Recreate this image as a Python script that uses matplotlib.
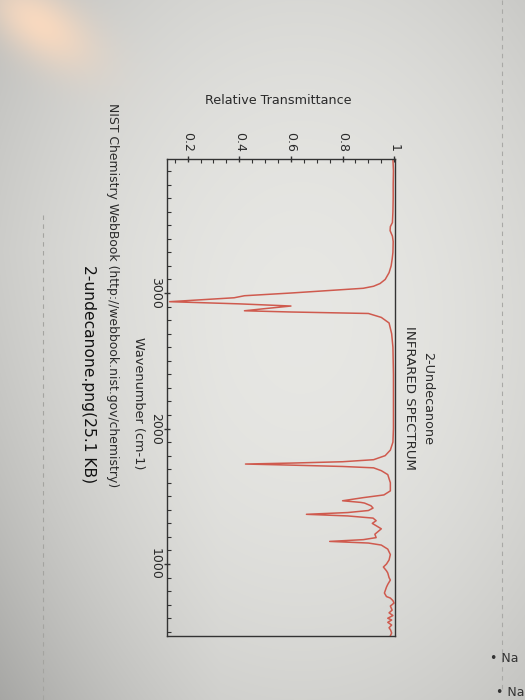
import numpy as np
import matplotlib
matplotlib.use("Agg")
import matplotlib.pyplot as plt
from matplotlib.ticker import FixedLocator, FixedFormatter, MultipleLocator

# ---------------- data ----------------
wavenumber = [3989, 3900, 3800, 3700, 3600, 3520, 3490, 3460, 3420, 3380, 3300,
              3250, 3200, 3150, 3100, 3070, 3050, 3035, 3020, 3000, 2980, 2965,
              2936, 2920, 2904, 2885, 2869, 2860, 2849, 2820, 2779, 2700, 2600,
              2400, 2200, 2000, 1900, 1841, 1800, 1770, 1755, 1745, 1738, 1730,
              1720, 1710, 1689, 1660, 1600, 1540, 1510, 1490, 1467, 1455, 1450,
              1430, 1413, 1395, 1380, 1367, 1355, 1339, 1320, 1300, 1260, 1220,
              1195, 1180, 1167, 1155, 1140, 1110, 1070, 1030, 1000, 978, 950,
              934, 900, 882, 850, 830, 786, 760, 749, 730, 712, 690, 660, 640,
              620, 600, 587, 570, 550, 530, 513, 491, 470]
transmittance = [0.995, 0.997, 0.996, 0.996, 0.995, 0.993, 0.985, 0.984, 0.993, 0.996, 0.995,
                 0.992, 0.988, 0.980, 0.965, 0.945, 0.920, 0.880, 0.760, 0.600, 0.420, 0.380,
                 0.130, 0.400, 0.600, 0.500, 0.420, 0.600, 0.900, 0.950, 0.980, 0.990, 0.995,
                 0.997, 0.997, 0.997, 0.995, 0.985, 0.965, 0.920, 0.800, 0.600, 0.424, 0.600,
                 0.800, 0.920, 0.950, 0.975, 0.985, 0.985, 0.960, 0.880, 0.800, 0.870, 0.885,
                 0.910, 0.918, 0.900, 0.820, 0.660, 0.820, 0.918, 0.930, 0.915, 0.950, 0.925,
                 0.930, 0.880, 0.750, 0.900, 0.950, 0.975, 0.985, 0.980, 0.970, 0.958, 0.970,
                 0.975, 0.980, 0.985, 0.975, 0.970, 0.962, 0.970, 0.985, 0.995, 0.999, 0.985, 0.992, 0.980,
                 0.995, 0.975, 0.990, 0.975, 0.990, 0.980, 0.986, 0.990, 0.985]

t_ticks = [0.2, 0.4, 0.6, 0.8, 1.0]
t_tick_labels = ["0.2", "0.4", "0.6", "0.8", "1"]
wn_ticks = [3000, 2000, 1000]
wn_tick_labels = ["3000", "2000", "1000"]

title_line1 = "2-Undecanone"
title_line2 = "INFRARED SPECTRUM"
t_label = "Relative Transmittance"
wn_label = "Wavenumber (cm-1)"
credit = "NIST Chemistry WebBook (http://webbook.nist.gov/chemistry)"
caption = "2-undecanone.png(25.1 KB)"

# ---------------- figure ----------------
W, H = 525, 700
fig = plt.figure(figsize=(W / 100, H / 100), dpi=100)

# photographed-screen background (vignetted grey with a blurred fingertip)
yy, xx = np.mgrid[0:H, 0:W].astype(float)
v = 0.905 - 0.10 * (((xx - 300) / 300) ** 2 + ((yy - 320) / 420) ** 2)
v -= 0.07 * np.clip((220 - xx) / 220, 0, 1) * np.clip((yy - 250) / 450, 0, 1)
v = np.clip(v, 0, 1)
img = np.dstack([v, v, v * 0.985])
ang = np.deg2rad(35)
dx, dy = xx - 40, yy - 24
xr = dx * np.cos(ang) + dy * np.sin(ang)
yr = -dx * np.sin(ang) + dy * np.cos(ang)
g = np.exp(-((xr / 62) ** 2 + (yr / 32) ** 2))
peach = np.array([0.97, 0.85, 0.75])
img = img * (1 - g[..., None]) + peach * g[..., None]

bg = fig.add_axes([0, 0, 1, 1])
bg.imshow(np.clip(img, 0, 1), extent=[0, W, H, 0], aspect="auto", zorder=0)
bg.plot([502, 502], [0, 690], ls=(0, (4, 4)), color="#a9a9a6", lw=0.8)
bg.plot([43, 43], [215, 700], ls=(0, (4, 4)), color="#a4a4a0", lw=0.8)
bg.set_xlim(0, W)
bg.set_ylim(H, 0)
bg.axis("off")


def px_box(l, t, r, b):
    return [l / W, 1 - b / H, (r - l) / W, (b - t) / H]


ax = fig.add_axes(px_box(167, 159, 395, 636))
ax.patch.set_alpha(0)
ax.plot(transmittance, wavenumber, color="#cf5a4e", lw=1.1)
ax.set_xlim(0.12, 1.003)
ax.set_ylim(469, 3989)

for s in ax.spines.values():
    s.set_color("#333333")
    s.set_linewidth(1.0)

ax.xaxis.set_major_locator(FixedLocator(t_ticks))
ax.xaxis.set_major_formatter(FixedFormatter(t_tick_labels))
ax.xaxis.set_minor_locator(MultipleLocator(0.05))
ax.yaxis.set_major_locator(FixedLocator(wn_ticks))
ax.yaxis.set_major_formatter(FixedFormatter(wn_tick_labels))
ax.yaxis.set_minor_locator(MultipleLocator(100))

ax.tick_params(axis="x", which="both", top=True, bottom=False, labeltop=True,
               labelbottom=False, colors="#333333", labelcolor="#2a2a2a")
ax.tick_params(axis="y", which="both", left=True, right=False, colors="#333333",
               labelcolor="#2a2a2a")
ax.tick_params(which="major", direction="inout", length=5, width=1.0,
               labelsize=9, pad=2.5)
ax.tick_params(which="minor", direction="in", length=3, width=0.8)
for lab in ax.get_xticklabels():
    lab.set_rotation(-90)
for lab in ax.get_yticklabels():
    lab.set_rotation(-90)
    lab.set_va("center")
ax.tick_params(axis="y", which="major", pad=1.0)

txt = dict(color="#2a2a2a", family="DejaVu Sans")
fig.text(428 / W, 1 - 398 / H, title_line1, rotation=-90, ha="center", va="center",
         fontsize=9.2, **txt)
fig.text(409 / W, 1 - 398 / H, title_line2, rotation=-90, ha="center", va="center",
         fontsize=9.6, **txt)
fig.text(278 / W, 1 - 101 / H, t_label, ha="center", va="center", fontsize=9.2, **txt)
fig.text(139 / W, 1 - 403 / H, wn_label, rotation=-90, ha="center", va="center",
         fontsize=9.3, **txt)
fig.text(112 / W, 1 - 295 / H, credit, rotation=-90, ha="center", va="center",
         fontsize=8.9, **txt)
fig.text(88 / W, 1 - 374 / H, caption, rotation=-90, ha="center", va="center",
         fontsize=11.2, color="#111111", family="DejaVu Sans")
fig.text(490 / W, 1 - 658 / H, "\u2022 Na", ha="left", va="center", fontsize=9,
         color="#333333")
fig.text(496 / W, 1 - 692 / H, "\u2022 Na", ha="left", va="center", fontsize=9,
         color="#333333")

fig.savefig("out.png", dpi=100)
